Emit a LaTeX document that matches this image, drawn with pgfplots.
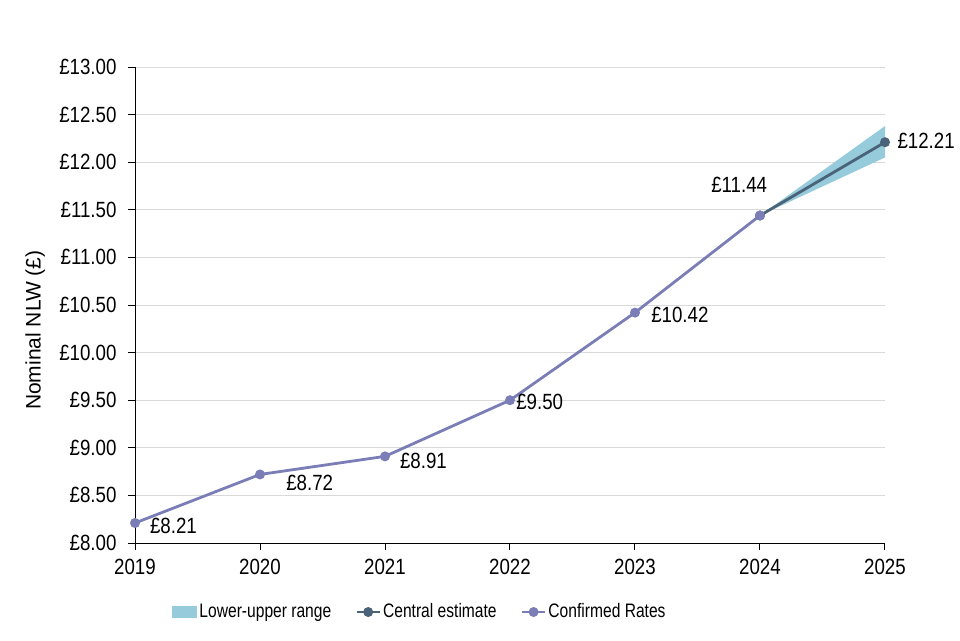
\documentclass[border=0pt]{standalone}
\usepackage{fontspec}
\setmainfont{Liberation Sans}[FakeStretch=0.85]
\newfontfamily\legfont{Liberation Sans}[FakeStretch=0.8]
\newfontfamily\labfont{Liberation Sans}
\usepackage{pgfplots}
\pgfplotsset{compat=1.18}

\definecolor{confirmed}{HTML}{7B7EB6}
\definecolor{central}{HTML}{4A6379}
\definecolor{band}{HTML}{96CBDB}
\definecolor{gridgray}{HTML}{D9D9D9}

\begin{document}
\fontsize{22}{26}\selectfont
\begin{tikzpicture}[x=1pt,y=1pt]
\path[use as bounding box] (0,0) rectangle (960,640);
\begin{axis}[
    at={(135pt,97pt)}, anchor=south west,
    scale only axis, width=750pt, height=476pt,
    xmin=2019, xmax=2025, ymin=8, ymax=13,
    xtick={2019,...,2025}, ytick={8,8.5,...,13},
    axis lines*=left,
    axis line style={black, line width=0.9pt, -},
    tick align=outside, tick pos=left,
    major tick length=7pt,
    tick style={black, line width=0.9pt},
    ymajorgrids, grid style={gridgray, line width=0.8pt},
    /pgf/number format/assume math mode=true,
    /pgf/number format/1000 sep={},
    yticklabel={£\pgfmathprintnumber[fixed,fixed zerofill,precision=2]{\tick}},
    ticklabel style={font=\fontsize{22}{26}\selectfont},
    yticklabel style={xshift=-4pt},
    xticklabel style={yshift=-2pt},
    ylabel={Nominal NLW (£)},
    every axis y label/.style={at={(axis description cs:-0.133,0.447)},
        rotate=90, anchor=center, font=\labfont\fontsize{21}{25}\selectfont},
    legend style={draw=none, fill=none, at={(0.380,-0.145)}, anchor=center,
        legend columns=3, font=\legfont\fontsize{19.5}{23}\selectfont,
        /tikz/every even column/.append style={column sep=22pt}},
    legend image code/.code={
        \draw[#1, mark repeat=2, mark phase=2] plot coordinates {(0pt,0pt) (11.5pt,0pt) (23pt,0pt)};},
    legend cell align=left,
    clip=false,
]
\addplot[fill=band, draw=none, legend image code/.code={
    \fill[band] (0pt,-6pt) rectangle (25pt,6pt);}] coordinates {
    (2024,11.44) (2025,12.38) (2025,12.05)} -- cycle;
\addlegendentry{Lower-upper range}
\addplot[central, line width=2.8pt, mark=*, mark size=3.5pt] coordinates {
    (2024,11.44) (2025,12.21)};
\addlegendentry{Central estimate}
\addplot[confirmed, line width=2.8pt, mark=*, mark size=3.5pt] coordinates {
    (2019,8.21) (2020,8.72) (2021,8.91) (2022,9.50) (2023,10.42) (2024,11.44)};
\addlegendentry{Confirmed Rates}

\node[anchor=west] at (axis cs:2019.06,8.18) {£8.21};
\node[anchor=west] at (axis cs:2020.15,8.63) {£8.72};
\node[anchor=west] at (axis cs:2021.06,8.86) {£8.91};
\node[anchor=west] at (axis cs:2021.99,9.48) {£9.50};
\node[anchor=west] at (axis cs:2023.07,10.40) {£10.42};
\node[anchor=west] at (axis cs:2023.55,11.76) {£11.44};
\node[anchor=west] at (axis cs:2025.04,12.22) {£12.21};
\end{axis}
\end{tikzpicture}
\end{document}
